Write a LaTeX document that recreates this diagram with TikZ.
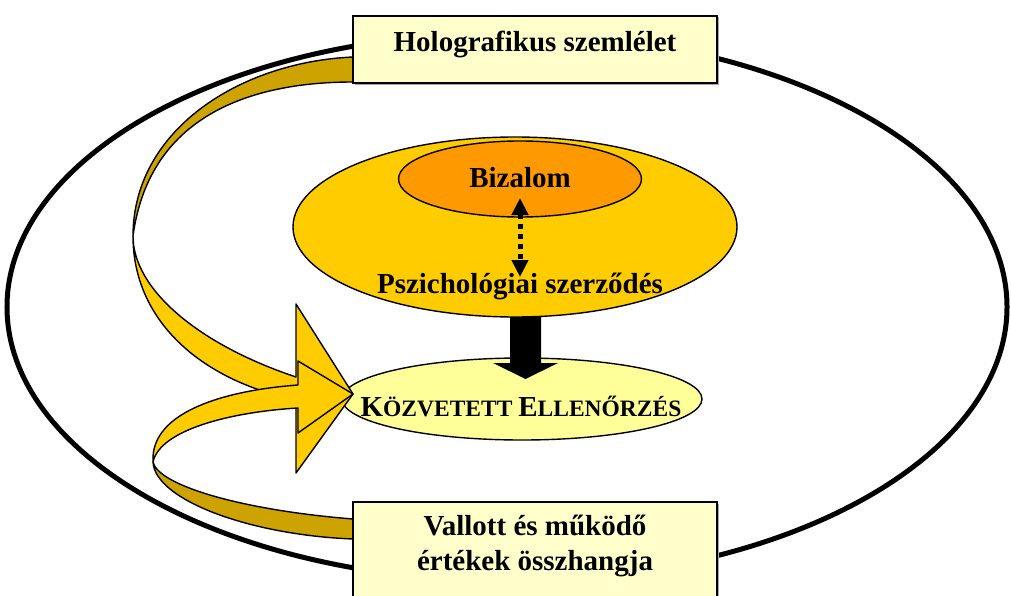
\documentclass[tikz,border=0pt]{standalone}
\usepackage{fontspec}
\setmainfont{Liberation Serif}
\usetikzlibrary{arrows.meta,shapes.geometric}
\definecolor{boxfill}{HTML}{FFFFCC}
\definecolor{gold}{HTML}{FFCC00}
\definecolor{darkgold}{HTML}{CCA300}
\definecolor{orangefill}{HTML}{FF9900}
\definecolor{paleyellow}{HTML}{FFFF99}
\newcommand{\bigsz}{\fontsize{29}{35}\selectfont}
\newcommand{\smallcapsz}{\fontsize{23.5}{28}\selectfont}
\begin{document}
\begin{tikzpicture}[x=1pt,y=-1pt,
  lbl/.style={font=\bigsz\bfseries, inner sep=0pt, anchor=base},
  outline/.style={draw=black, line width=1.4pt},
  framebox/.style={outline, fill=boxfill, rectangle, inner sep=0pt},
  oval/.style={outline, ellipse, inner sep=0pt},
  ribbonlight/.style={outline, fill=gold, line join=round},
  ribbondark/.style={outline, fill=darkgold, line join=round},
  shadowbox/.style={fill=black!35}
]
\clip (0,0) rectangle (1011,596);
\fill[white] (0,0) rectangle (1011,596);

% outer closed loop
\coordinate (loopcentre) at (507,307);
\draw[line width=5pt] (loopcentre) ellipse [x radius=500, y radius=274];

% indirect control (bottom oval)
\node[oval, fill=paleyellow, minimum width=360pt, minimum height=82pt] (ctrl) at (522,399) {};

% heavy arrow from the contract to indirect control
\coordinate (blocktip) at (525.5,379);
\fill[black] (510,310) -- (541,310) -- (541,363) -- (558,363) -- (blocktip) -- (493,363) -- (510,363) -- cycle;

% psychological contract and trust
\node[oval, fill=gold, minimum width=444pt, minimum height=180pt] (psy) at (515,227) {};
\node[oval, fill=orangefill, minimum width=243pt, minimum height=76pt] (trust) at (520,179) {};
\node[lbl] (trusttext) at (520,187) {Bizalom};
\node[lbl] (psytext) at (520,293) {Pszichológiai szerződés};
\coordinate (trustpt) at (520,198);
\coordinate (psypt) at (520,277);
\draw[line width=5pt, dash pattern=on 5pt off 5pt,
  {Triangle[width=16pt,length=17pt]}-{Triangle[width=16pt,length=17pt]}] (trustpt) -- (psypt);

\node[lbl] (ctrltext) at (521,416) {K\smallcapsz ÖZVETETT \bigsz E\smallcapsz LLENŐRZÉS};

% curved ribbon arrow from the holographic view
\draw[ribbondark] (370,57) -- (353,57) .. controls (240,62) and (133,130) .. (133,236)
   .. controls (150,110) and (260,82) .. (353,82) -- (370,82) -- cycle;
\draw[ribbonlight] (133,236) .. controls (133,290) and (200,345) .. (296,377)
   -- (296,304) -- (353,394) -- (296,473) -- (296,400)
   .. controls (200,380) and (133,320) .. (133,236) -- cycle;

% curved ribbon arrow from the values box
\draw[ribbondark] (370,519) -- (353,519) .. controls (240,510) and (158,485) .. (153,462)
   .. controls (155,500) and (250,535) .. (353,539) -- (370,539) -- cycle;
\draw[ribbonlight] (153,462) .. controls (150,410) and (230,390) .. (298,385)
   -- (298,361) -- (353,394) -- (298,433) -- (298,408)
   .. controls (230,412) and (160,430) .. (153,462) -- cycle;

% boxes
\fill[shadowbox] (354.5,17.5) rectangle (719,85);
\node[framebox, minimum width=364pt, minimum height=67pt] (holo) at (535,49.5) {};
\node[lbl] (holotext) at (535,52) {Holografikus szemlélet};

\fill[shadowbox] (354.5,503.5) rectangle (719,640);
\node[framebox, minimum width=364pt, minimum height=118pt] (values) at (535,561) {};
\node[lbl] (valtext1) at (535,535) {Vallott és működő};
\node[lbl] (valtext2) at (535,570) {értékek összhangja};
\end{tikzpicture}
\end{document}
